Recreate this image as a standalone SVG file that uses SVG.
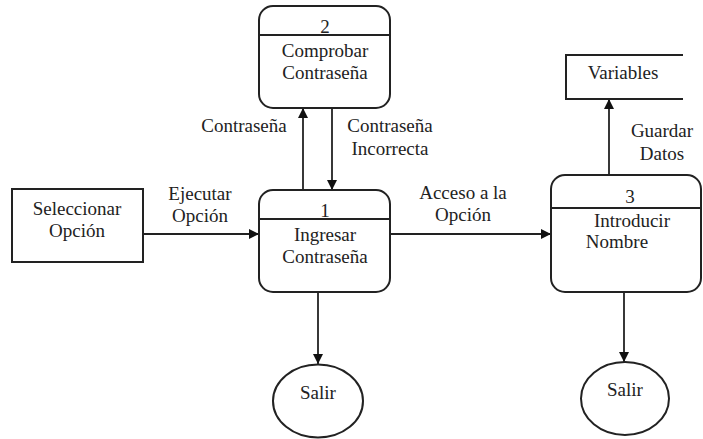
<svg xmlns="http://www.w3.org/2000/svg" width="703" height="439" viewBox="0 0 703 439">
<style>
.s{fill:none;stroke:#222;stroke-width:2}
.w{fill:#fff;stroke:#222;stroke-width:2}
text{font-family:'Liberation Serif','DejaVu Serif',serif;font-size:19px;fill:#222;text-anchor:middle}
.c{stroke:#222;stroke-width:1.8;fill:none}
</style>
<defs>
<marker id="ah" viewBox="0 0 10 10" refX="10" refY="5" markerWidth="10" markerHeight="10" markerUnits="userSpaceOnUse" orient="auto">
<path d="M0,0 L10,5 L0,10 Z" fill="#111"/>
</marker>
</defs>
<rect width="703" height="439" fill="#fff"/>
<g id="connectors">
<line class="c" x1="143" y1="234" x2="259" y2="234" marker-end="url(#ah)"/>
<line class="c" x1="303" y1="190" x2="303" y2="108" marker-end="url(#ah)"/>
<line class="c" x1="332" y1="108" x2="332" y2="190" marker-end="url(#ah)"/>
<line class="c" x1="390" y1="234" x2="551" y2="234" marker-end="url(#ah)"/>
<line class="c" x1="609" y1="175" x2="609" y2="99" marker-end="url(#ah)"/>
<line class="c" x1="318" y1="292" x2="318" y2="364" marker-end="url(#ah)"/>
<line class="c" x1="624" y1="292" x2="624" y2="362" marker-end="url(#ah)"/>
<text x="200" y="200">Ejecutar</text>
<text x="200" y="222">Opción</text>
<text x="463" y="199">Acceso a la</text>
<text x="463" y="221">Opción</text>
<text x="244" y="132">Contraseña</text>
<text x="390" y="132">Contraseña</text>
<text x="390" y="155">Incorrecta</text>
<text x="662" y="137">Guardar</text>
<text x="662" y="160">Datos</text>
</g>
<g id="seleccionar">
<rect class="w" x="12" y="189" width="131" height="73"/>
<text x="77" y="215">Seleccionar</text>
<text x="77" y="237">Opción</text>
</g>
<g id="p2">
<rect class="w" x="259" y="6" width="131" height="102" rx="14"/>
<line class="s" x1="259" y1="35" x2="390" y2="35"/>
<text x="325" y="33">2</text>
<text x="325" y="57">Comprobar</text>
<text x="325" y="79">Contraseña</text>
</g>
<g id="p1">
<rect class="w" x="259" y="190" width="131" height="102" rx="14"/>
<line class="s" x1="259" y1="219" x2="390" y2="219"/>
<text x="325" y="217">1</text>
<text x="325" y="241">Ingresar</text>
<text x="325" y="263">Contraseña</text>
</g>
<g id="p3">
<rect class="w" x="551" y="175" width="150" height="117" rx="14"/>
<line class="s" x1="551" y1="208" x2="701" y2="208"/>
<text x="630" y="203">3</text>
<text x="632" y="227">Introducir</text>
<text x="617" y="248">Nombre</text>
</g>
<g id="variables">
<path class="s" d="M683,55 H566 V99 H683"/>
<text x="623" y="79">Variables</text>
</g>
<g id="salir1">
<ellipse class="w" cx="318" cy="401" rx="45" ry="36.5"/>
<text x="318" y="399">Salir</text>
</g>
<g id="salir2">
<ellipse class="w" cx="625" cy="398.5" rx="44" ry="36.5"/>
<text x="625" y="396">Salir</text>
</g>
</svg>
